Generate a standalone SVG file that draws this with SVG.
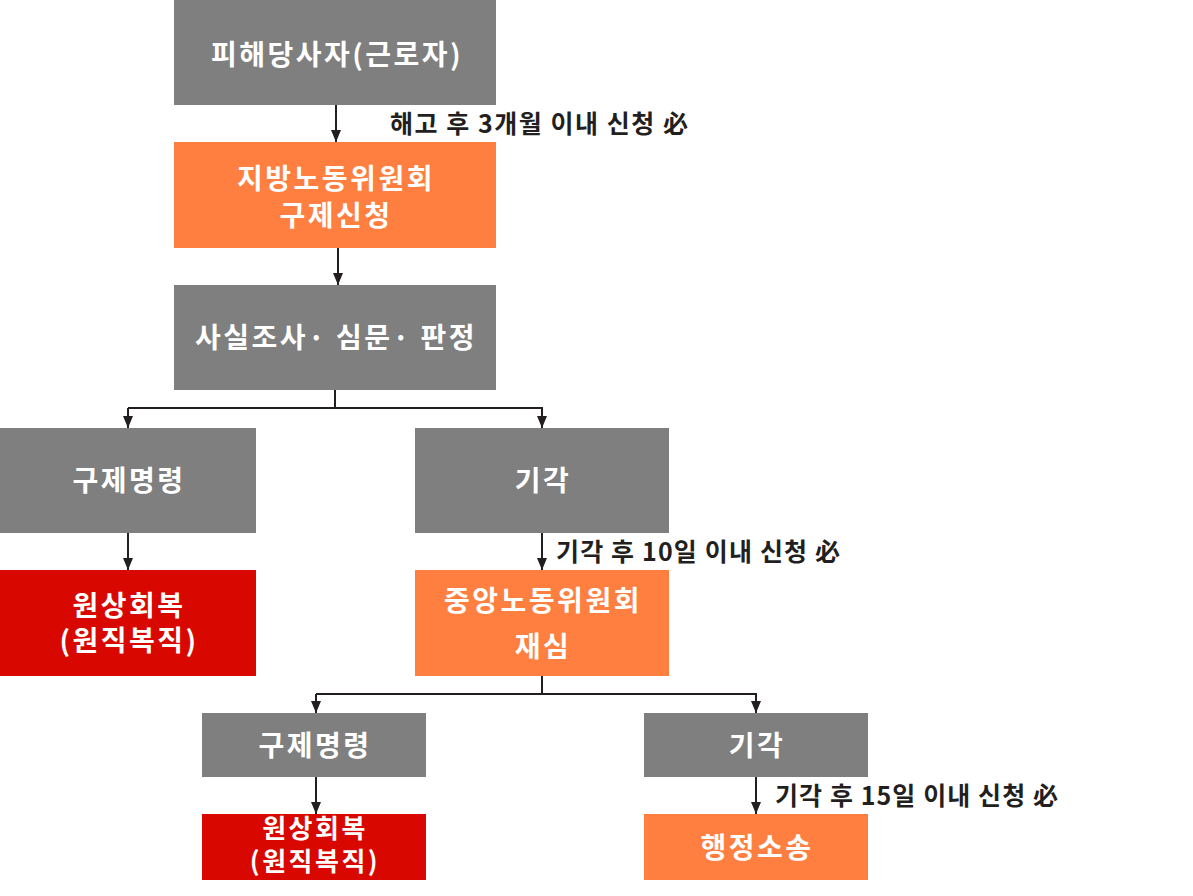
<svg xmlns="http://www.w3.org/2000/svg" width="1193" height="896" viewBox="0 0 1193 896">
<defs>
<marker id="ah" markerWidth="12" markerHeight="10" refX="12" refY="5" orient="auto" markerUnits="userSpaceOnUse" viewBox="0 0 12 10">
<path d="M0,0 L12,5 L0,10 Z" fill="#231f20"/>
</marker>
<style>
.gray{fill:#7f7f7f}
.orange{fill:#ff7f40}
.red{fill:#d80800}
.t{font-family:"Noto Sans CJK KR","Noto Sans",sans-serif;font-weight:bold;fill:#ffffff;text-anchor:middle;font-size:28px;letter-spacing:2.5px}
.s{font-size:26px;letter-spacing:2.5px}
.lbl{font-family:"Noto Sans CJK KR","Noto Sans",sans-serif;font-weight:bold;fill:#231f20;font-size:25px}
.c{fill:none;stroke:#231f20;stroke-width:2}
</style>
</defs>
<rect width="1193" height="896" fill="#ffffff"/>
<g id="connectors">
<path class="c" d="M336,105 V142" marker-end="url(#ah)"/>
<path class="c" d="M338,248 V285" marker-end="url(#ah)"/>
<path class="c" d="M335,390 V408 M128,408 H543"/>
<path class="c" d="M128,408 V428" marker-end="url(#ah)"/>
<path class="c" d="M542,408 V428" marker-end="url(#ah)"/>
<path class="c" d="M128,533 V570" marker-end="url(#ah)"/>
<path class="c" d="M542,533 V570" marker-end="url(#ah)"/>
<path class="c" d="M542,676 V694 M316,694 H757"/>
<path class="c" d="M316,694 V713" marker-end="url(#ah)"/>
<path class="c" d="M756,694 V713" marker-end="url(#ah)"/>
<path class="c" d="M316,777 V814" marker-end="url(#ah)"/>
<path class="c" d="M756,777 V814" marker-end="url(#ah)"/>
<text class="lbl" x="390" y="133" textLength="298" lengthAdjust="spacing">해고 후 3개월 이내 신청 必</text>
<text class="lbl" x="556" y="561" textLength="284" lengthAdjust="spacing">기각 후 10일 이내 신청 必</text>
<text class="lbl" x="775" y="805" textLength="283" lengthAdjust="spacing">기각 후 15일 이내 신청 必</text>
</g>
<g id="n1"><rect class="gray" x="174" y="0" width="322" height="105"/><text class="t" x="337" y="65">피해당사자(근로자)</text></g>
<g id="n2"><rect class="orange" x="174" y="142" width="322" height="106"/><text class="t" x="336" y="189">지방노동위원회</text><text class="t" x="336" y="226">구제신청</text></g>
<g id="n3"><rect class="gray" x="174" y="285" width="322" height="105"/><text class="t" x="336" y="348">사실조사· 심문· 판정</text></g>
<g id="n4"><rect class="gray" x="0" y="428" width="256" height="105"/><text class="t" x="129" y="491">구제명령</text></g>
<g id="n5"><rect class="gray" x="415" y="428" width="254" height="105"/><text class="t" x="543" y="491">기각</text></g>
<g id="n6"><rect class="red" x="0" y="570" width="256" height="106"/><text class="t" x="129" y="616">원상회복</text><text class="t" x="129" y="651">(원직복직)</text></g>
<g id="n7"><rect class="orange" x="415" y="570" width="254" height="106"/><text class="t" x="543" y="611">중앙노동위원회</text><text class="t" x="543" y="657">재심</text></g>
<g id="n8"><rect class="gray" x="202" y="713" width="224" height="64"/><text class="t" x="315" y="756">구제명령</text></g>
<g id="n9"><rect class="gray" x="644" y="713" width="224" height="64"/><text class="t" x="757" y="756">기각</text></g>
<g id="n10"><rect class="red" x="202" y="814" width="224" height="66"/><text class="t s" x="315" y="838">원상회복</text><text class="t s" x="315" y="871">(원직복직)</text></g>
<g id="n11"><rect class="orange" x="644" y="814" width="224" height="66"/><text class="t" x="757" y="858">행정소송</text></g>
</svg>
